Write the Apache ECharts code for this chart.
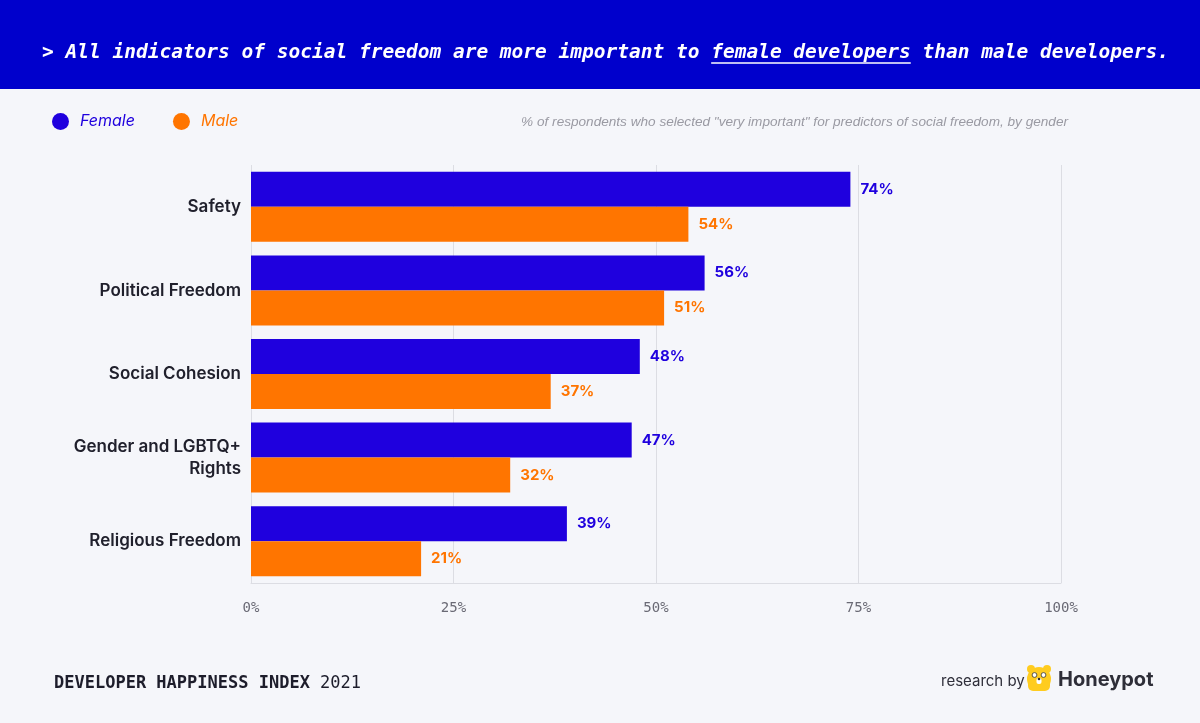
<!DOCTYPE html>
<html>
<head>
<meta charset="utf-8">
<script src="https://cdn.jsdelivr.net/npm/echarts@6/dist/echarts.min.js"></script>
<style>
html,body{margin:0;padding:0;background:#f5f6fa;}
#chart{width:1200px;height:723px;}
</style>
</head>
<body>
<div id="chart"></div>
<script>
const categories = ['Safety', 'Political Freedom', 'Social Cohesion', 'Gender and LGBTQ+\nRights', 'Religious Freedom'];
const femaleValues = [74, 56, 48, 47, 39];
const maleValues = [54, 51, 37, 32, 21];
const xTicks = [0, 25, 50, 75, 100];
const seriesNames = ['Female', 'Male'];

const FEMALE = '#1f00de';
const MALE = '#ff7500';
const HEADER = '#0000cc';

const chart = echarts.init(document.getElementById('chart'));
const titleText = '> All indicators of social freedom are more important to female developers than male developers.';
const titleFont = 'italic bold 19.5px "DejaVu Sans Mono", monospace';

const option = {
  backgroundColor: '#f5f6fa',
  animation: false,
  grid: { left: 251, right: 139, top: 165, bottom: 140 },
  legend: {
    left: 47, top: 108,
    icon: 'circle', itemWidth: 17, itemHeight: 17, itemGap: 38,
    selectedMode: false,
    data: [
      { name: seriesNames[0], textStyle: { color: FEMALE } },
      { name: seriesNames[1], textStyle: { color: MALE } }
    ],
    textStyle: { fontFamily: 'Inter', fontStyle: 'italic', fontSize: 16, padding: [0, 0, 0, 6] }
  },
  xAxis: {
    type: 'value', min: xTicks[0], max: xTicks[xTicks.length - 1], interval: 25,
    axisLine: { show: true, lineStyle: { color: '#dcdde3' } },
    axisTick: { show: false },
    splitLine: { show: true, lineStyle: { color: '#dcdde3', width: 1 } },
    axisLabel: {
      formatter: '{value}%', margin: 18,
      fontFamily: '"DejaVu Sans Mono", monospace', fontSize: 14, color: '#6a6a75'
    }
  },
  yAxis: {
    type: 'category', inverse: true, data: categories,
    axisLine: { show: false }, axisTick: { show: false },
    axisLabel: {
      margin: 10, fontFamily: 'Inter', fontWeight: 600, fontSize: 17,
      color: '#20202c', lineHeight: 22, align: 'right'
    }
  },
  series: [
    {
      name: seriesNames[0], type: 'bar', data: femaleValues,
      barWidth: 35, barGap: '0%',
      itemStyle: { color: FEMALE },
      label: {
        show: true, position: 'right', distance: 10, formatter: '{c}%',
        fontFamily: 'Inter', fontWeight: 700, fontSize: 15, color: FEMALE
      }
    },
    {
      name: seriesNames[1], type: 'bar', data: maleValues,
      barWidth: 35, barGap: '0%',
      itemStyle: { color: MALE },
      label: {
        show: true, position: 'right', distance: 10, formatter: '{c}%',
        fontFamily: 'Inter', fontWeight: 700, fontSize: 15, color: MALE
      }
    }
  ],
  graphic: [
    { type: 'rect', left: 0, top: 0, shape: { width: 1200, height: 89 }, style: { fill: HEADER }, z: 0 },
    {
      type: 'text', left: 42, top: 43, z: 1,
      style: { text: titleText, font: titleFont, fill: '#ffffff' }
    },
    {
      type: 'text', right: 132, top: 115, z: 1,
      style: {
        text: '% of respondents who selected "very important" for predictors of social freedom, by gender',
        font: 'italic 13.6px "Liberation Sans", sans-serif', fill: '#9a9aa3'
      }
    },
    {
      type: 'text', left: 54, top: 675, z: 1,
      style: {
        rich: {
          b: { fontFamily: '"DejaVu Sans Mono", monospace', fontWeight: 'bold', fontSize: 17, fill: '#1d1d2b' },
          r: { fontFamily: '"DejaVu Sans Mono", monospace', fontWeight: 'normal', fontSize: 17, fill: '#1d1d2b' }
        },
        text: '{b|DEVELOPER HAPPINESS INDEX}{r| 2021}'
      }
    },
    {
      type: 'text', left: 941, top: 674, z: 1,
      style: { text: 'research by', font: '15px Inter, sans-serif', fill: '#2f2f3a' }
    },
    {
      type: 'group', left: 1027, top: 665, z: 1,
      children: [
        { type: 'circle', shape: { cx: 12, cy: 14, r: 12 }, style: { fill: '#ffcc1f' } },
        { type: 'circle', shape: { cx: 4, cy: 4, r: 4 }, style: { fill: '#ffcc1f' } },
        { type: 'circle', shape: { cx: 20, cy: 4, r: 4 }, style: { fill: '#ffcc1f' } },
        { type: 'rect', shape: { x: 1, y: 14, width: 22, height: 12, r: 5 }, style: { fill: '#ffcc1f' } },
        { type: 'circle', shape: { cx: 7.5, cy: 10, r: 2.4 }, style: { fill: '#ffffff', stroke: '#333', lineWidth: 0.8 } },
        { type: 'circle', shape: { cx: 16.5, cy: 10, r: 2.4 }, style: { fill: '#ffffff', stroke: '#333', lineWidth: 0.8 } },
        { type: 'rect', shape: { x: 9.5, y: 13, width: 5, height: 6, r: 2 }, style: { fill: '#ffffff' } },
        { type: 'circle', shape: { cx: 12, cy: 14, r: 1.3 }, style: { fill: '#333' } }
      ]
    },
    {
      type: 'text', left: 1058, top: 670, z: 1,
      style: { text: 'Honeypot', font: 'bold 20px Inter, sans-serif', fill: '#2e2e38' }
    }
  ]
};
chart.setOption(option);

// underline under "female developers", measured from the rendered title text
(function () {
  const ctx = document.createElement('canvas').getContext('2d');
  ctx.font = titleFont;
  const pre = titleText.indexOf('female developers');
  const x1 = 42 + ctx.measureText(titleText.slice(0, pre)).width;
  const x2 = x1 + ctx.measureText('female developers').width;
  chart.setOption({
    graphic: option.graphic.concat([{
      type: 'line', z: 2,
      shape: { x1: x1, y1: 63, x2: x2, y2: 63 },
      style: { stroke: '#ffffff', lineWidth: 1.5 }
    }])
  });
})();
</script>
</body>
</html>
